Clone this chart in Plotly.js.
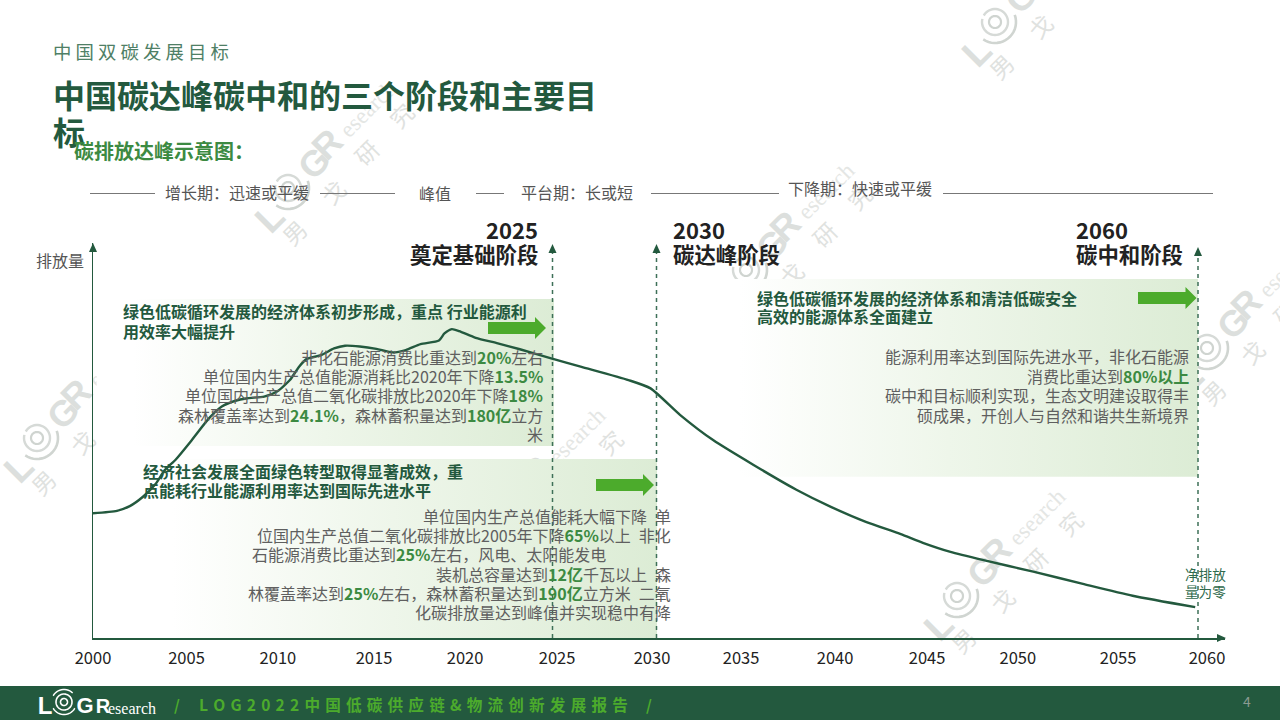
<!DOCTYPE html>
<html><head><meta charset="utf-8">
<script src="https://cdn.plot.ly/plotly-3.0.1.min.js"></script>
<style>html,body{margin:0;padding:0;background:#fff}#c{width:1280px;height:720px}</style>
</head><body><div id="c"></div>
<script>
// ---- data ----
const curveYears = [2000.0,2001.3,2002.0,2002.7,2003.4,2003.9,2004.5,2005.3,2006.3,2007.0,2007.7,2008.4,2009.3,2010.0,2010.7,2011.2,2011.6,2012.4,2013.1,2013.7,2014.5,2015.4,2016.3,2017.0,2017.8,2018.8,2019.1,2019.5,2019.9,2020.8,2022.0,2023.2,2024.9,2026.5,2029.1,2030.3,2031.9,2033.7,2035.9,2038.2,2040.1,2042.0,2043.9,2045.1,2046.6,2048.4,2051.1,2053.8,2056.5,2059.9];
const curveValues = [31.6,32.2,33.4,35.7,39.0,42.5,45.2,49.7,55.6,58.6,60.0,60.7,61.1,62.4,65.3,68.7,70.6,71.6,73.3,74.0,73.8,73.2,72.3,72.9,74.4,75.3,77.1,78.2,77.7,76.0,74.6,73.1,70.8,68.7,65.3,63.2,56.5,50.1,43.8,37.6,33.2,29.4,26.3,24.1,21.8,19.7,16.8,13.7,10.7,7.8];
const tickLabels = ['2000','2005','2010','2015','2020','2025','2030','2035','2040','2045','2050','2055','2060'];
const tickPlaces = [2000,2005.08,2010.05,2015.27,2020.22,2025.22,2030.38,2035.22,2040.33,2045.33,2050.26,2055.71,2060.54];
const panelSpans = [[2000.2,2025.05,85.8,48.6],[2002.0,2030.65,45.3,0],[2033.0,2060.05,90.9,40.8]];

const G='<b style="color:#3c8a42">', E='</b>';
const body1 = ['非化石能源消费比重达到'+G+'20%'+E+'左右','单位国内生产总值能源消耗比2020年下降'+G+'13.5%'+E,'单位国内生产总值二氧化碳排放比2020年下降'+G+'18%'+E,'森林覆盖率达到'+G+'24.1%'+E+'\uFF0C森林蓄积量达到'+G+'180亿'+E+'立方','米'];
const body2 = ['单位国内生产总值能耗大幅下降\u2002单','位国内生产总值二氧化碳排放比2005年下降'+G+'65%'+E+'以上\u2002非化','石能源消费比重达到'+G+'25%'+E+'左右\uFF0C风电、太阳能发电','装机总容量达到'+G+'12亿'+E+'千瓦以上\u2002森','林覆盖率达到'+G+'25%'+E+'左右\uFF0C森林蓄积量达到'+G+'190亿'+E+'立方米\u2002二氧','化碳排放量达到峰值并实现稳中有降'];
const body3 = ['能源利用率达到国际先进水平\uFF0C非化石能源','消费比重达到'+G+'80%以上'+E,'碳中和目标顺利实现\uFF0C生态文明建设取得丰','硕成果\uFF0C开创人与自然和谐共生新境界'];

// ---- helpers: page pixels to paper fractions ----
const W=1280,H=720, fx=x=>x/W, fy=y=>1-y/H;
const CJK='"Noto Sans CJK SC","Noto Sans",sans-serif';
const DARK='#23593e', ARROW='#4cab2c', WM='#dcdfdd';
const ann=[], shp=[];
function txt(x,y,text,size,color,anchor,extra){
  ann.push(Object.assign({xref:'paper',yref:'paper',x:fx(x),y:fy(y),text,showarrow:false,xanchor:anchor||'left',yanchor:'middle',
    font:{family:CJK,size,color},align:anchor||'left',borderpad:0,borderwidth:0},extra||{}));
}
function poly(pts,color,layer){
  shp.push({type:'path',xref:'paper',yref:'paper',layer:layer||'above',fillcolor:color,line:{width:0},
    path:'M'+pts.map(p=>fx(p[0]).toFixed(5)+','+fy(p[1]).toFixed(5)).join('L')+'Z'});
}
function hline(x0,x1,y,color,w,dash,layer){
  shp.push({type:'line',xref:'paper',yref:'paper',layer:layer||'above',x0:fx(x0),x1:fx(x1),y0:fy(y),y1:fy(y),line:{color,width:w,dash:dash||'solid'}});
}
function vline(x,y0,y1,color,w,dash){
  shp.push({type:'line',xref:'paper',yref:'paper',layer:'above',x0:fx(x),x1:fx(x),y0:fy(y0),y1:fy(y1),line:{color,width:w,dash:dash||'solid'}});
}
function arc(cx,cy,r,a0,a1,color,w,layer){
  const pts=[];for(let a=a0;a<=a1;a+=8){const t=a*Math.PI/180;pts.push([cx+r*Math.cos(t),cy+r*Math.sin(t)]);}
  shp.push({type:'path',xref:'paper',yref:'paper',layer:layer,line:{color,width:w},
    path:'M'+pts.map(p=>fx(p[0]).toFixed(5)+','+fy(p[1]).toFixed(5)).join('L')});
}
function label(cx,cy,text,size,color,family,angle,layer){
  shp.push({type:'rect',xref:'paper',yref:'paper',layer:layer||'below',x0:fx(cx-50),x1:fx(cx+50),y0:fy(cy+30),y1:fy(cy-30),
    line:{width:0},fillcolor:'rgba(0,0,0,0)',
    label:{text,textangle:angle,textposition:'middle center',font:{family,size,color}}});
}
function watermark(cx,cy){
  const a=-45,SANS='"Liberation Sans",Arial,sans-serif';
  label(cx-21,cy+27,'<b>L</b>',38,WM,SANS,a);
  arc(cx,cy,6,0,360,'#cfd4d0',2.2,'below');
  arc(cx,cy,13,-150,200,'#d6dad7',2.4,'below');
  arc(cx,cy,21,-20,130,'#d0d5d1',2.6,'below');
  label(cx+24,cy-27,'<b>G</b>',36,WM,SANS,a);
  label(cx+37,cy-46,'<b>R</b>',36,WM,SANS,a);
  label(cx+78,cy-81,'esearch',23,'#e4e6e4','"Liberation Serif",serif',a);
  label(cx+9,cy+47,'男',23,'#dfe2e0',CJK,a);
  label(cx+48,cy+7,'戈',23,'#dfe2e0',CJK,a);
  label(cx+81,cy-33,'研',23,'#dfe2e0',CJK,a);
  label(cx+116,cy-70,'究',23,'#dfe2e0',CJK,a);
}
function arrow(x0,x1,y){
  poly([[x0,y-6],[x1-11,y-6],[x1-11,y-11],[x1,y],[x1-11,y+11],[x1-11,y+6],[x0,y+6]],ARROW);
}

// footer
shp.push({type:'rect',xref:'paper',yref:'paper',layer:'below',x0:0,x1:1,y0:0,y1:fy(686),fillcolor:DARK,line:{width:0}});

// watermarks
[[995,22],[288,188],[746,270],[1207,348],[37,438],[497,515],[957,596]].forEach(p=>watermark(p[0],p[1]));

// header texts
txt(53,51,'中 国 双 碳 发 展 目 标',18.4,'#4f7f66');
txt(74,150,'<b>碳排放达峰示意图\uFF1A</b>',20,'#3c8a42');

// phase strip
[[90,155],[320,395],[476,504],[651,779],[943,1213]].forEach(s=>hline(s[0],s[1],193.5,'#777',1));
txt(165,192,'增长期\uFF1A迅速或平缓',16,'#555');
txt(419,193,'峰值',16,'#555');
txt(521,192,'平台期\uFF1A长或短',16,'#555');
txt(788,188,'下降期\uFF1A快速或平缓',16,'#555');

txt(36,260,'排放量',16,'#555');

// phase titles
txt(538,229,'<b>2025</b>',22,'#222','right');
txt(538,253.5,'<b>奠定基础阶段</b>',21.4,'#222','right');
txt(673,229,'<b>2030</b>',22,'#222');
txt(673,253.5,'<b>碳达峰阶段</b>',21.4,'#222');
txt(1076,229,'<b>2060</b>',22,'#222');
txt(1076,253.5,'<b>碳中和阶段</b>',21.4,'#222');

// dashed markers and axis arrows
[[552.5,245],[656.5,245],[1198,248]].forEach(m=>{
  vline(m[0],638,m[1]+6,'#3e7058',1.5,'4px,4px');
  poly([[m[0],m[1]-1],[m[0]+4,m[1]+8],[m[0]-4,m[1]+8]],DARK);
});
poly([[93,243],[97,252],[89,252]],DARK);
poly([[1226,638],[1217,634],[1217,642]],DARK);

// panel headings
txt(123,311,'<b>绿色低碳循环发展的经济体系初步形成\uFF0C重点 行业能源利</b>',16,DARK);
txt(123,331,'<b>用效率大幅提升</b>',16,DARK);
txt(143,471,'<b>经济社会发展全面绿色转型取得显著成效\uFF0C重</b>',16,DARK);
txt(143,490,'<b>点能耗行业能源利用率达到国际先进水平</b>',16,DARK);
txt(757,298,'<b>绿色低碳循环发展的经济体系和清洁低碳安全</b>',16,DARK);
txt(757,316,'<b>高效的能源体系全面建立</b>',16,DARK);
arrow(488,546,328); arrow(596,654,485); arrow(1138,1196.5,298);

// panel bodies
const GRAY='#5f5f5f';
body1.forEach((t,i)=>txt(543,357+i*19.2,t,16,GRAY,'right'));
body2.forEach((t,i)=>txt(i===2?606:671,516+i*19.2,t,16,GRAY,'right'));
body3.forEach((t,i)=>txt(1189,356+i*19.6,t,16,GRAY,'right'));

txt(1205.5,574,'净排放',13.6,'#2f6a4c','center');
txt(1205.5,591,'量为零',13.6,'#2f6a4c','center');

// footer contents
const SANS2='"Liberation Sans",Arial,sans-serif';
label(45,703,'<b>L</b>',24,'#fff',SANS2,0,'above');
arc(64,702,3.5,0,360,'#fff',1.6,'above');
arc(64,702,8,0,360,'#fff',1.6,'above');
arc(64,702,12.5,-150,-40,'#fff',1.4,'above');
arc(64,702,12.5,30,150,'#fff',1.4,'above');
label(85,703,'<b>G</b>',22,'#fff',SANS2,0,'above');
label(103,704,'<b>R</b>',20,'#fff',SANS2,0,'above');
label(132,706,'esearch',16,'#fff','"Liberation Serif",serif',0,'above');
txt(177,704,'<b>/</b>',15,ARROW,'center');
const footerText=['L','O','G','2','0','2','2','中','国','低','碳','供','应','链','&amp;','物','流','创','新','发','展','报','告'];
txt(199,704,'<b>'+footerText.join('\u2004')+'</b>',15.6,ARROW);
txt(649,704,'<b>/</b>',15,ARROW,'center');
txt(1247,701,'4',14,'#8a9a90','center');

// ---- traces ----
const panelScale=[[0,'#ffffff'],[0.08,'#ffffff'],[0.5,'#eef6ea'],[1,'#dcecd5']];
const traces=panelSpans.map(p=>({
  type:'scatter',mode:'none',x:[p[0],p[1],p[1],p[0],p[0]],y:[p[2],p[2],p[3],p[3],p[2]],
  fill:'toself',fillgradient:{type:'horizontal',colorscale:panelScale},hoverinfo:'skip',showlegend:false
}));
traces.push({type:'scatter',mode:'lines',x:curveYears,y:curveValues,
  line:{color:DARK,width:2.4,shape:'spline',smoothing:0.6},hoverinfo:'skip',showlegend:false,cliponaxis:false});

const layout={
  width:W,height:H,margin:{l:0,r:0,t:0,b:0},paper_bgcolor:'#fff',plot_bgcolor:'rgba(0,0,0,0)',showlegend:false,
  title:{text:'<b><span style="font-size:32px">中国碳达峰碳中和的三个阶段和主要目<br>标</span></b>',
    x:fx(53),xanchor:'left',y:fy(127),yanchor:'top',pad:{t:-19},font:{family:CJK,size:28.5,color:DARK}},
  xaxis:{domain:[fx(93),fx(1225)],range:[2000,2061.52],tickmode:'array',tickvals:tickPlaces,ticktext:tickLabels,
    showgrid:false,zeroline:false,showline:true,linecolor:DARK,linewidth:1.5,ticks:'',ticklabelstandoff:5,
    tickfont:{family:CJK,size:16.5,color:'#222'},anchor:'y'},
  yaxis:{domain:[fy(638),fy(243)],range:[0,100],showgrid:false,zeroline:false,showline:true,linecolor:DARK,linewidth:1.5,
    showticklabels:false,ticks:'',anchor:'x'},
  annotations:ann,shapes:shp
};
Plotly.newPlot('c',traces,layout,{displayModeBar:false,staticPlot:true});
</script></body></html>
